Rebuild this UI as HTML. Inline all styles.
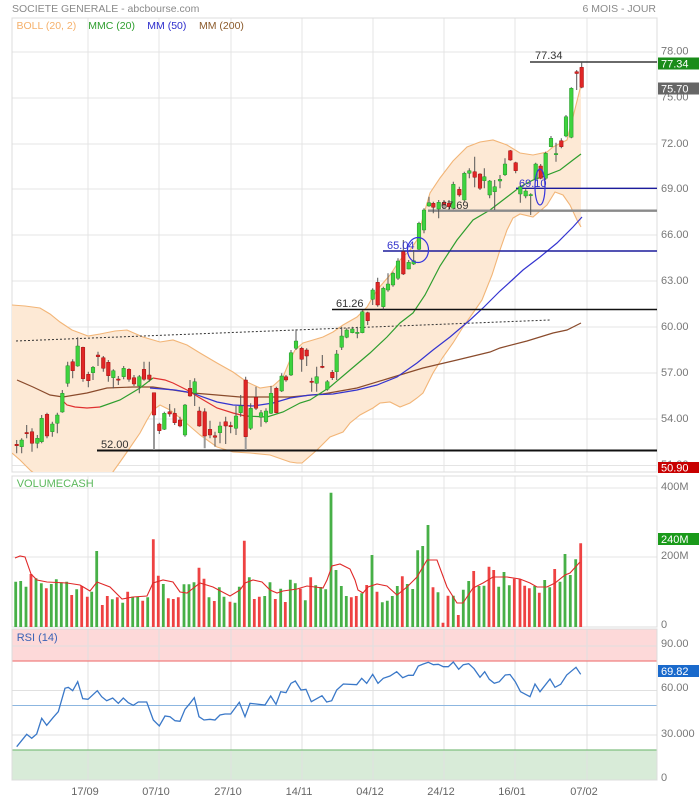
<!DOCTYPE html>
<html><head><meta charset="utf-8"><style>
html,body{margin:0;padding:0;background:#fff;}
svg{display:block;font-family:"Liberation Sans",Arial,sans-serif;}
</style></head><body>
<svg width="699" height="800" viewBox="0 0 699 800" xmlns="http://www.w3.org/2000/svg">
<defs>
<clipPath id="cm"><rect x="12" y="18" width="645" height="454"/></clipPath>
</defs>
<rect width="699" height="800" fill="#fff"/>
<text x="12" y="12" font-size="10.5" fill="#8a8a8a">SOCIETE GENERALE - abcbourse.com</text>
<text x="656" y="12" font-size="10.5" fill="#8a8a8a" text-anchor="end">6 MOIS - JOUR</text>

<!-- MAIN PANEL GRID -->
<g stroke="#e4e4e4" stroke-width="1" fill="none">
<path d="M12 52H657M12 98H657M12 144H657M12 189H657M12 235H657M12 281H657M12 327H657M12 373H657M12 419H657M12 465.5H657"/>
<path d="M88 18V472M159 18V472M231 18V472M302 18V472M373 18V472M444 18V472M515 18V472M587 18V472"/>
<rect x="12" y="18" width="645" height="454" stroke="#dcdcdc"/>
</g>

<g clip-path="url(#cm)">
<!-- Bollinger -->
<path fill="#fde9d5" d="M12 305L25 306L40 308L50 314L60 322L72 330L80 333L88 336L100 334L115 331L127 330L143 337L160 342L173 340L187 345L200 353L217 363L233 372L247 382L260 388L273 386L283 377L290 360L295 350L303 343L313 340L323 337L333 332L343 325L357 317L367 307L377 290L390 275L400 260L410 250L417 240L423 217L430 193L440 178L453 161L467 147L480 142L493 140L507 145L520 153L533 155L547 152L553 147L567 140L573 117L581 85L581 227L577 220L570 205L563 195L555 192L547 205L533 217L520 214L513 218L507 230L500 250L492 275L482 300L473 313L463 327L453 343L443 357L433 373L423 393L417 398L410 403L400 407L390 402L380 403L373 408L360 415L350 423L343 432L330 437L317 450L302 463L297 463L290 462L270 455L250 453L233 452L217 447L200 435L185 422L170 410L160 405L153 410L147 420L140 433L127 452L120 462L110 476L100 478L40 478L30 470L20 460L12 453Z"/>
<g fill="none" stroke="#f2b577" stroke-width="1.1">
<polyline points="12,305 25,306 40,308 50,314 60,322 72,330 80,333 88,336 100,334 115,331 127,330 143,337 160,342 173,340 187,345 200,353 217,363 233,372 247,382 260,388 273,386 283,377 290,360 295,350 303,343 313,340 323,337 333,332 343,325 357,317 367,307 377,290 390,275 400,260 410,250 417,240 423,217 430,193 440,178 453,161 467,147 480,142 493,140 507,145 520,153 533,155 547,152 553,147 567,140 573,117 581,85"/>
<polyline points="12,453 20,460 30,470 40,478 100,478 110,476 120,462 127,452 140,433 147,420 153,410 160,405 170,410 185,422 200,435 217,447 233,452 250,453 270,455 290,462 297,463 302,463 317,450 330,437 343,432 350,423 360,415 373,408 380,403 390,402 400,407 410,403 417,398 423,393 433,373 443,357 453,343 463,327 473,313 482,300 492,275 500,250 507,230 513,218 520,214 533,217 547,205 555,192 563,195 570,205 577,220 581,227"/>
</g>

<!-- dotted trend -->
<line x1="16" y1="341" x2="550" y2="320" stroke="#333" stroke-width="1" stroke-dasharray="2,2"/>

<!-- MM200 -->
<polyline fill="none" stroke="#8a4b2c" stroke-width="1.2" points="17,380 33,387 50,395 63,397 87,393 107,388 133,387 153,387 173,390 193,393 217,395 240,397 267,397 290,397 323,394 357,388 390,378 423,368 457,360 490,352 500,348 527,341 553,333 567,330 581,323"/>
<!-- MM50 -->
<polyline fill="none" stroke="#3434d0" stroke-width="1.2" points="150,388 175,390 193,393 200,396 217,402 233,405 253,406 273,403 290,398 310,395 333,394 357,390 377,385 397,377 417,363 433,350 450,337 470,320 483,308 500,291 510,282 523,270 540,257 557,243 573,227 582,217"/>
<!-- MMC20 -->
<g fill="none" stroke-width="1.2">
<polyline stroke="#e03030" points="62,400 67,405 75,407 87,408 100,407"/>
<polyline stroke="#2e9e2e" points="100,407 120,400 140,388 153,378"/>
<polyline stroke="#e03030" points="153,378 165,380 173,383 187,390 200,398 217,408 233,413 245,416"/>
<polyline stroke="#2e9e2e" points="245,416 267,417 283,412 300,403 310,400 330,387 350,370 370,353 387,337 400,323 413,313 425,295 440,266 457,240 473,220 490,210 507,197 520,187 533,180 547,175 560,170 573,160 581,154"/>
</g>

<!-- level lines -->
<path d="M530 62H657" stroke="#111" stroke-width="1.2"/>
<path d="M516 188.3H657" stroke="#1c1c9c" stroke-width="1.4"/>
<path d="M428 210.7H657" stroke="#8a8a8a" stroke-width="2.4"/>
<path d="M383 251H657" stroke="#1c1c9c" stroke-width="1.4"/>
<path d="M332 309.5H657" stroke="#111" stroke-width="1.4"/>
<path d="M97 450.5H657" stroke="#111" stroke-width="2"/>

<!-- gray ex markers -->
<path d="M154 415V450M204.7 436V448.3M245.7 436.7V450" stroke="#9a9a9a" stroke-width="2"/>

<!-- wicks -->
<path fill="none" stroke="#555" stroke-width="1" d="M16.7 440V453.3M21.7 438.3V453.3M26.7 425V438.3M32 428.3V451.7M37.3 435V448.3M41.7 415V443.3M47 412.7V438.3M52.3 421.7V436.7M57.3 412.7V433.3M62.3 390V412.7M67.7 361.7V386.7M72.7 359.3V378.3M77.7 337.3V366.7M83 346.7V381.7M88.3 371.7V387.3M93 366V380M98 351.7V366M103.3 356V371.7M108.3 360V381.7M113.3 369.3V388.3M118.3 376V385M123.7 366V379.3M129 368.3V381.7M134 375V386M139.3 375V393.3M144 361.7V380.7M149.3 361.7V381.7M154 392.7V415M159.3 422.7V434M164.3 411.7V430M169.7 404V416.7M174.7 408.3V425M180 416.7V427.3M185 404V436.7M190 380V396.7M194.7 378.3V406M199.3 406.7V426.7M204.7 408.3V436M210 420.7V438.3M215 431.7V446.7M220 421.7V443.3M225.7 416.7V444M230.7 421.7V433.3M236 406V435M240.7 395V416.7M245.7 376.7V436.7M250.7 403.3V430M256 386.7V410M261 410V426.7M266 408.3V423.3M271 386V414M276.3 386.7V413.3M281.7 373.3V392M286 375V381.7M291 350V376M296 329.3V350M301.7 346.7V371.7M306.7 348.3V366M311.7 377.7V391.7M316.7 366.7V391.7M322.3 355V368.3M327.3 380V390.7M332.3 370V380M336.7 350V380M341.7 326.7V350M346.7 328.3V338.3M352.3 326.7V333.3M357.3 326.7V338.3M362.3 310V333.3M367.7 311.7V325M372.7 288.3V305M377.7 277.7V306.7M383.3 286.7V309.3M388 273.3V291.7M393 271.7V286.7M398 258.3V280M403.3 240V275M408.7 260V269.3M413.7 250V265M419 221.7V250M424 208.3V233.3M429 196.7V206.7M433.3 201.7V213.3M438.7 200V218.3M444 200V208.3M449 200V210M453.3 181.7V209.3M459.3 186.7V196.7M464.3 171.7V201.7M469.3 168.3V178.3M474.7 156.7V187.3M480 173.3V190M484.3 168.3V188.3M489.7 180V198.3M494.7 180V210M500 175V188.3M505 158.3V176M510.3 150V160.7M515.7 161.7V173.3M520.3 185V202.7M525.7 189.3V198.3M530.7 193.3V215M535.7 162.7V180M540.7 164V179.3M545.7 151.7V180M551 136V147.3M556 142.7V161.7M561.3 138.3V148.3M566 115V137.3M571.3 87.3V138.3M576.7 70V90M581.7 62V88.3"/>

<!-- green bodies -->
<path fill="#3ed33e" stroke="#24932a" stroke-width="0.5" d="M19.9 440h3.6V446.7h-3.6zM35.5 438.3h3.6V443.3h-3.6zM39.9 418.3h3.6V441.7h-3.6zM50.5 424h3.6V431.7h-3.6zM55.5 415h3.6V423.3h-3.6zM60.5 393.3h3.6V412h-3.6zM65.9 365.7h3.6V383.3h-3.6zM75.9 346h3.6V366h-3.6zM91.2 367.3h3.6V372.7h-3.6zM111.5 370.7h3.6V377.7h-3.6zM121.9 368.3h3.6V376.7h-3.6zM137.5 376.7h3.6V386h-3.6zM162.5 413.3h3.6V429.3h-3.6zM183.2 405h3.6V435h-3.6zM192.9 381.7h3.6V393.3h-3.6zM218.2 426h3.6V432.7h-3.6zM234.2 416h3.6V428.3h-3.6zM238.9 406h3.6V412.7h-3.6zM248.9 408.3h3.6V428.3h-3.6zM259.2 412.7h3.6V417.3h-3.6zM264.2 411h3.6V421.7h-3.6zM269.2 393.3h3.6V413.3h-3.6zM279.9 376h3.6V391h-3.6zM289.2 352.7h3.6V375h-3.6zM294.2 341h3.6V348.3h-3.6zM314.9 376.7h3.6V383.3h-3.6zM325.5 381.7h3.6V389.3h-3.6zM334.9 354h3.6V371.7h-3.6zM339.9 336h3.6V347.3h-3.6zM344.9 330h3.6V337.3h-3.6zM350.5 329h3.6V332.7h-3.6zM355.5 332.3h3.6V333.5h-3.6zM360.5 311.7h3.6V332.7h-3.6zM370.9 290h3.6V299.3h-3.6zM381.5 288.3h3.6V306.7h-3.6zM386.2 284h3.6V290h-3.6zM391.2 273.3h3.6V285h-3.6zM396.2 261h3.6V278.3h-3.6zM406.9 262.3h3.6V269h-3.6zM411.9 260.7h3.6V264h-3.6zM417.2 223.3h3.6V249.3h-3.6zM422.2 210h3.6V230h-3.6zM427.2 202.7h3.6V206h-3.6zM436.9 202.3h3.6V209h-3.6zM451.5 184.3h3.6V208.3h-3.6zM462.5 173.3h3.6V200h-3.6zM467.5 170.7h3.6V173.3h-3.6zM482.5 176.7h3.6V180.7h-3.6zM487.9 181h3.6V195h-3.6zM492.9 186.7h3.6V191.7h-3.6zM498.2 179.3h3.6V181h-3.6zM503.2 164h3.6V174.7h-3.6zM518.5 186.7h3.6V194h-3.6zM523.9 191h3.6V196h-3.6zM528.9 194.5h3.6V195.7h-3.6zM533.9 164h3.6V179h-3.6zM543.9 153.3h3.6V178.3h-3.6zM549.2 138.3h3.6V146.7h-3.6zM554.2 153.5h3.6V154.7h-3.6zM564.2 116.7h3.6V136h-3.6zM569.5 88.3h3.6V137.3h-3.6z"/>
<!-- red bodies -->
<path fill="#e02626" stroke="#a01010" stroke-width="0.5" d="M14.9 444.3h3.6V445.7h-3.6zM24.9 432.5h3.6V433.7h-3.6zM30.2 431.7h3.6V443.3h-3.6zM45.2 414.3h3.6V436h-3.6zM70.9 361.7h3.6V370.7h-3.6zM81.2 347.3h3.6V378.7h-3.6zM86.5 374.3h3.6V380.7h-3.6zM96.2 355h3.6V356.7h-3.6zM101.5 357.7h3.6V368.3h-3.6zM106.5 362.3h3.6V375.7h-3.6zM116.5 379h3.6V380.2h-3.6zM127.2 369.3h3.6V379.3h-3.6zM132.2 377.7h3.6V384h-3.6zM142.2 369.3h3.6V379.3h-3.6zM147.5 375h3.6V379.3h-3.6zM152.2 392.7h3.6V415h-3.6zM157.5 424h3.6V430.7h-3.6zM167.9 411.7h3.6V414h-3.6zM172.9 413.3h3.6V422.7h-3.6zM178.2 420h3.6V426h-3.6zM188.2 388.3h3.6V396h-3.6zM197.5 411h3.6V426h-3.6zM202.9 411.7h3.6V436h-3.6zM208.2 429.3h3.6V435h-3.6zM213.2 435.7h3.6V437.3h-3.6zM223.9 421.7h3.6V426h-3.6zM228.9 425.5h3.6V426.7h-3.6zM243.9 380h3.6V436.7h-3.6zM254.2 397.3h3.6V408.3h-3.6zM274.5 388.3h3.6V412.7h-3.6zM284.2 376.7h3.6V380h-3.6zM299.9 348.3h3.6V359.3h-3.6zM304.9 350h3.6V356h-3.6zM309.9 381.2h3.6V382.4h-3.6zM320.5 366.3h3.6V367.5h-3.6zM330.5 372.3h3.6V377.7h-3.6zM365.9 312.7h3.6V320.7h-3.6zM375.9 282.3h3.6V305h-3.6zM401.5 251.7h3.6V274h-3.6zM431.5 203.3h3.6V207.3h-3.6zM442.2 202.3h3.6V205h-3.6zM447.2 203.3h3.6V206.7h-3.6zM457.5 189.3h3.6V195h-3.6zM472.9 171.7h3.6V177.3h-3.6zM478.2 174h3.6V188.3h-3.6zM508.5 150.7h3.6V160h-3.6zM513.9 162.7h3.6V170.7h-3.6zM538.9 166h3.6V178.3h-3.6zM559.5 140.7h3.6V146.7h-3.6zM574.9 71.7h3.6V73.5h-3.6zM579.9 67.3h3.6V87.3h-3.6z"/>

<!-- ellipses -->
<ellipse cx="418" cy="250" rx="10.5" ry="12.5" fill="none" stroke="#3535dd" stroke-width="1.2"/>
<ellipse cx="540" cy="187" rx="5" ry="18" fill="none" stroke="#3535dd" stroke-width="1.2"/>
</g>

<!-- level labels -->
<g font-size="11">
<text x="535" y="59" fill="#333">77.34</text>
<text x="519" y="187" fill="#3333cc">69.10</text>
<text x="441" y="209" fill="#333">67.69</text>
<text x="387" y="249" fill="#3333cc">65.04</text>
<text x="336" y="307" fill="#333">61.26</text>
<text x="101" y="448" fill="#333">52.00</text>
</g>

<!-- legend -->
<g font-size="10.5">
<text x="16.5" y="29" fill="#f5b06a">BOLL (20, 2)</text>
<text x="88.3" y="29" fill="#2e9e2e">MMC (20)</text>
<text x="147.3" y="29" fill="#2c2ccc">MM (50)</text>
<text x="199" y="29" fill="#8b5a2b">MM (200)</text>
</g>

<!-- right axis main -->
<g font-size="11" fill="#777">
<text x="661" y="54.5">78.00</text>
<text x="661" y="100.5">75.00</text>
<text x="661" y="147">72.00</text>
<text x="661" y="192">69.00</text>
<text x="661" y="238">66.00</text>
<text x="661" y="284">63.00</text>
<text x="661" y="330">60.00</text>
<text x="661" y="376">57.00</text>
<text x="661" y="422">54.00</text>
<text x="661" y="468">51.00</text>
</g>
<rect x="658" y="57.5" width="41" height="12" fill="#1a8c1a"/>
<text x="661" y="67.5" font-size="11" fill="#fff">77.34</text>
<rect x="658" y="82.5" width="41" height="12" fill="#666"/>
<text x="661" y="92.5" font-size="11" fill="#fff">75.70</text>
<rect x="658" y="462" width="41" height="11" fill="#c80000"/>
<text x="661" y="471.5" font-size="11" fill="#fff">50.90</text>

<!-- VOLUME PANEL -->
<g stroke="#e4e4e4" fill="none">
<path d="M12 488H657M12 557H657"/>
<path d="M88 476V627M159 476V627M231 476V627M302 476V627M373 476V627M444 476V627M515 476V627M587 476V627"/>
<rect x="12" y="476" width="645" height="151" stroke="#dcdcdc"/>
</g>
<text x="16.7" y="487" font-size="11" fill="#5cb85c">VOLUMECASH</text>
<path fill="#47b047" d="M14.3 627V581.7h2.8V627zM19.3 627V581h2.8V627zM24.6 627V586.7h2.8V627zM34.6 627V578.3h2.8V627zM39.9 627V583.3h2.8V627zM49.9 627V584h2.8V627zM54.9 627V579.3h2.8V627zM59.9 627V582.3h2.8V627zM65.3 627V581.7h2.8V627zM75.3 627V589.3h2.8V627zM90.3 627V591.7h2.8V627zM95.3 627V551h2.8V627zM110.9 627V599.3h2.8V627zM121.3 627V602.7h2.8V627zM131.3 627V596.7h2.8V627zM136.3 627V596.7h2.8V627zM146.3 627V597.3h2.8V627zM161.9 627V584h2.8V627zM182.6 627V584.3h2.8V627zM187.6 627V584.3h2.8V627zM192.6 627V582.3h2.8V627zM207.6 627V597.3h2.8V627zM217.9 627V587.3h2.8V627zM222.6 627V596.7h2.8V627zM233.6 627V602.7h2.8V627zM237.9 627V586.7h2.8V627zM247.9 627V577.3h2.8V627zM263.3 627V596h2.8V627zM268.6 627V582.3h2.8V627zM279.3 627V588.7h2.8V627zM288.9 627V579.7h2.8V627zM293.9 627V583.3h2.8V627zM303.9 627V600.3h2.8V627zM314.3 627V585.3h2.8V627zM319.3 627V587h2.8V627zM324.3 627V589.3h2.8V627zM329.6 627V492.7h2.8V627zM334.6 627V570h2.8V627zM339.9 627V586h2.8V627zM344.9 627V596h2.8V627zM360.3 627V593.3h2.8V627zM370.6 627V555h2.8V627zM380.9 627V602.3h2.8V627zM385.9 627V600.7h2.8V627zM390.9 627V596h2.8V627zM395.9 627V586h2.8V627zM405.9 627V584h2.8V627zM411.3 627V589h2.8V627zM416.3 627V550.3h2.8V627zM421.3 627V546h2.8V627zM426.6 627V525h2.8V627zM436.6 627V592.3h2.8V627zM451.9 627V595.7h2.8V627zM461.9 627V589.7h2.8V627zM467.3 627V581h2.8V627zM477.6 627V586h2.8V627zM482.6 627V585.7h2.8V627zM497.3 627V586.7h2.8V627zM502.6 627V572h2.8V627zM507.9 627V585.3h2.8V627zM533.3 627V586h2.8V627zM543.3 627V580h2.8V627zM548.3 627V587.3h2.8V627zM558.6 627V581.7h2.8V627zM563.6 627V554h2.8V627zM568.9 627V575h2.8V627zM574.3 627V559.3h2.8V627z"/>
<path fill="#ee4242" d="M29.6 627V574h2.8V627zM44.9 627V588.3h2.8V627zM70.3 627V595h2.8V627zM80.3 627V586h2.8V627zM85.9 627V596.7h2.8V627zM100.9 627V605h2.8V627zM105.9 627V596h2.8V627zM115.9 627V597.3h2.8V627zM126.3 627V591.7h2.8V627zM141.3 627V600.7h2.8V627zM151.9 627V539.3h2.8V627zM156.9 627V575.7h2.8V627zM166.9 627V598.3h2.8V627zM171.9 627V599h2.8V627zM176.9 627V597.3h2.8V627zM197.6 627V567.7h2.8V627zM202.6 627V578.7h2.8V627zM212.9 627V601h2.8V627zM228.6 627V601.7h2.8V627zM242.9 627V540.7h2.8V627zM252.9 627V599h2.8V627zM257.9 627V596.7h2.8V627zM273.9 627V599h2.8V627zM283.9 627V602h2.8V627zM298.9 627V588.7h2.8V627zM309.3 627V577.3h2.8V627zM349.9 627V597.3h2.8V627zM354.9 627V596h2.8V627zM365.3 627V585h2.8V627zM375.6 627V591.7h2.8V627zM400.9 627V576.3h2.8V627zM431.6 627V587.3h2.8V627zM441.6 627V622.7h2.8V627zM446.6 627V595.7h2.8V627zM456.9 627V615h2.8V627zM472.3 627V571h2.8V627zM487.6 627V566.7h2.8V627zM492.3 627V570h2.8V627zM512.9 627V578.7h2.8V627zM518.6 627V579h2.8V627zM523.3 627V585.7h2.8V627zM527.9 627V588.3h2.8V627zM537.9 627V592.7h2.8V627zM553.3 627V569h2.8V627zM579.3 627V543.3h2.8V627z"/>
<polyline fill="none" stroke="#e02828" stroke-width="1.1" points="15,558 20,556 25,557 31,574 37,580 47,582 67,583 80,585 90,591 97,582 110,587 122,599 133,597 147,596 153,583 163,580 173,582 180,592 187,593 200,583 213,587 230,596 240,590 245,583 253,580 262,582 270,590 277,593 283,591 297,589 307,586 323,588 327,580 332,566 340,564 350,569 355,580 358,590 363,593 368,587 377,584 387,586 397,595 407,587 417,577 427,560 437,560 447,587 457,603 463,603 473,588 483,583 493,577 507,577 520,579 530,583 537,587 547,587 555,583 565,575 570,573 580,562"/>
<g font-size="11" fill="#777">
<text x="661" y="490">400M</text>
<text x="661" y="559">200M</text>
<text x="661" y="628">0</text>
</g>
<rect x="658" y="533" width="41" height="12" fill="#1a9a1a"/>
<text x="661" y="543" font-size="11" fill="#fff">240M</text>

<!-- RSI PANEL -->
<rect x="12" y="629" width="645" height="32" fill="#fdd9d9"/>
<rect x="12" y="750" width="645" height="30" fill="#d8ebd8"/>
<g stroke="#e0e0e0" fill="none">
<path d="M12 646H657M12 690.5H657M12 735H657"/>
<path d="M88 629V780M159 629V780M231 629V780M302 629V780M373 629V780M444 629V780M515 629V780M587 629V780"/>
</g>
<path d="M12 661H657" stroke="#f08080" stroke-width="1.2"/>
<path d="M12 705.5H657" stroke="#8cb6e0" stroke-width="1"/>
<path d="M12 750H657" stroke="#80bf80" stroke-width="1.2"/>
<rect x="12" y="629" width="645" height="151" fill="none" stroke="#dcdcdc"/>
<text x="16.7" y="641" font-size="11" fill="#3a62b5">RSI (14)</text>
<polyline fill="none" stroke="#3a78c8" stroke-width="1.3" points="16.7,746.7 26.7,734.3 31.7,738.3 36.7,734 41.7,718.3 46.7,725.3 53.3,717.3 58.3,711.7 65,688.3 68.3,687.3 72.7,690.7 77.7,681.7 82.7,698.7 88,699.3 97.3,690.7 101.7,696.7 106.7,700.7 112.7,698 118.3,703.3 123.3,698 128.3,702.7 133.3,705.3 138.3,702 146.7,702 153.3,720 159.3,726 165,716 170,716.7 175,720.7 180,721.3 185,709.3 190,703.3 194.3,697.7 199,716.7 204,720 210,719.3 215,720 220,715 225,714 230.7,714 239.3,702.3 245,716.7 250,703.3 265,705 270.7,696 276,704.3 280.7,691.7 286,692.7 291,683.3 295.3,681 301,690 306,689.3 311.3,701.7 322,695.7 326.7,702 331.7,700.7 336.7,690 343.3,684 356.7,684.7 361.7,678.3 366.7,683.3 372.7,674.3 378,683.3 383.3,678.3 390,676 396.7,671.7 402.7,677.7 408.3,675.3 413.3,675.3 418.3,666 423.3,664 428.3,662.3 433.3,664.7 438.3,664.3 443.3,666.7 448.3,666.7 453.3,662 458.7,669.3 463.3,664.7 468.7,663.7 474,668.7 480,677.3 484.7,671.7 489.3,679.3 494.3,683.3 499.3,681.7 505.3,675 510,674.5 515.3,681.7 520.5,691.7 530,696.7 535,684 540,691.7 550,679 555,687.3 560.7,684.3 566.7,675 576,667.3 580.7,674.3"/>
<g font-size="11" fill="#777">
<text x="661" y="647">90.00</text>
<text x="661" y="691">60.00</text>
<text x="661" y="737">30.000</text>
<text x="661" y="781">0</text>
</g>
<rect x="658" y="665" width="41" height="12" fill="#1a6acc"/>
<text x="661" y="675" font-size="11" fill="#fff">69.82</text>

<!-- dates -->
<g font-size="11" fill="#666" text-anchor="middle">
<text x="85" y="795">17/09</text>
<text x="156" y="795">07/10</text>
<text x="228" y="795">27/10</text>
<text x="299" y="795">14/11</text>
<text x="370" y="795">04/12</text>
<text x="441" y="795">24/12</text>
<text x="512" y="795">16/01</text>
<text x="584" y="795">07/02</text>
</g>
</svg>
</body></html>
